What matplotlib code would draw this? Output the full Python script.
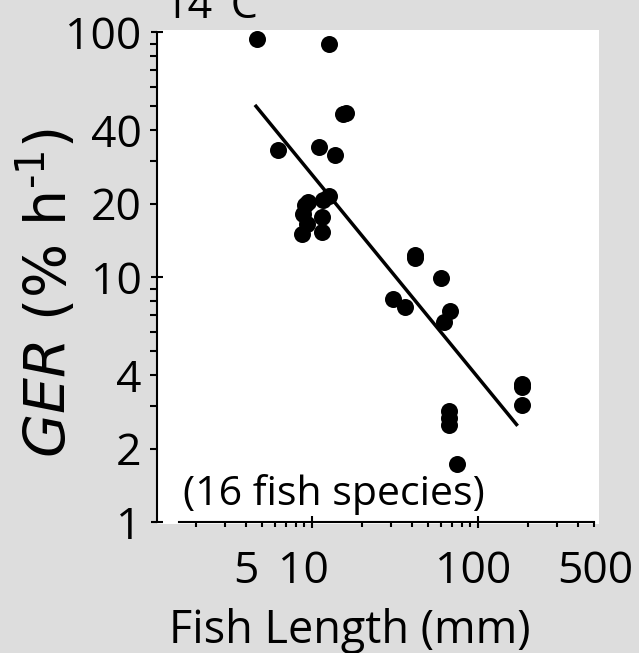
import matplotlib
matplotlib.use("Agg")
import matplotlib.pyplot as plt
from matplotlib.ticker import FixedLocator, FuncFormatter
from matplotlib.transforms import ScaledTranslation

# Fish length (mm) and gastric evacuation rate (% h^-1), 14 degC
length_mm = [4.70, 12.66, 15.4, 16.05, 6.24, 11.1, 13.9, 11.7, 12.7,
             9.54, 9.11, 8.90, 9.33, 8.70, 11.6, 11.6,
             41.7, 41.7, 60.1, 31.0, 36.5, 68.1, 62.7,
             185, 185, 185, 67.3, 67.3, 67.3, 74.7]
ger = [93.6, 89.7, 46.6, 47.1, 33.0, 34.2, 31.7, 20.8, 21.4,
       20.3, 19.7, 18.2, 16.6, 15.0, 17.7, 15.3,
       12.4, 12.0, 9.98, 8.20, 7.57, 7.28, 6.58,
       3.68, 3.58, 3.01, 2.85, 2.67, 2.50, 1.74]

# Log-log regression line end points
fit_length = [4.55, 174]
fit_ger = [50.6, 2.48]

x_major = [10, 100]
x_minor = [2, 3, 4, 5, 6, 7, 8, 9, 20, 30, 40, 50, 60, 70, 80, 90,
           200, 300, 400, 500]
x_minor_labels = [5, 500]
y_major = [1, 10, 100]
y_minor = [2, 3, 4, 5, 6, 7, 8, 9, 20, 30, 40, 50, 60, 70, 80, 90]
y_minor_labels = [2, 4, 20, 40]

FONT = "Open Sans"
LABEL_FONT = "DejaVu Sans"
plt.rcParams["font.family"] = [FONT, "DejaVu Sans"]
plt.rcParams["mathtext.fontset"] = "custom"
plt.rcParams["mathtext.rm"] = LABEL_FONT
plt.rcParams["mathtext.it"] = LABEL_FONT + ":italic"

W, H = 639, 653
BG = "#dddddd"
fig = plt.figure(figsize=(W / 100, H / 100), dpi=100, facecolor=BG)
ax = fig.add_axes([157 / W, (H - 524) / H, 442 / W, 494 / H])
ax.set_facecolor("white")
ax.set_xscale("log")
ax.set_yscale("log")
ax.set_xlim(1.17, 538)
ax.set_ylim(0.986, 102.3)

ax.scatter(length_mm, ger, s=150, color="black", linewidths=0,
           zorder=3, clip_on=False)
ax.plot(fit_length, fit_ger, color="black", lw=2.5,
        solid_capstyle="butt", zorder=2)

for side in ("top", "right"):
    ax.spines[side].set_visible(False)
ax.spines["left"].set_bounds(1, 100)
ax.spines["left"].set_linewidth(1.5)
ax.spines["bottom"].set_position(("data", 1))
ax.spines["bottom"].set_bounds(1.59, 500)
ax.spines["bottom"].set_linewidth(1.5)

ax.xaxis.set_major_locator(FixedLocator(x_major))
ax.xaxis.set_minor_locator(FixedLocator(x_minor))
ax.yaxis.set_major_locator(FixedLocator(y_major))
ax.yaxis.set_minor_locator(FixedLocator(y_minor))
ax.xaxis.set_major_formatter(FuncFormatter(lambda v, p: f"{v:g}"))
ax.yaxis.set_major_formatter(FuncFormatter(lambda v, p: f"{v:g}"))
ax.xaxis.set_minor_formatter(FuncFormatter(
    lambda v, p: f"{v:g}" if round(v) in x_minor_labels else ""))
ax.yaxis.set_minor_formatter(FuncFormatter(
    lambda v, p: f"{v:g}" if round(v) in y_minor_labels else ""))

ax.tick_params(which="major", direction="inout", length=9, width=1.5,
               labelsize=32, colors="black")
ax.tick_params(which="minor", direction="out", width=1.5,
               labelsize=32, colors="black")
ax.tick_params(axis="y", which="minor", length=5, pad=6)
ax.tick_params(axis="y", which="major", pad=6.5)
ax.tick_params(axis="x", which="minor", length=3.5, pad=16.3)
ax.tick_params(axis="x", which="major", pad=15.3)

# horizontal nudges of the x tick labels (pixels)
x_label_shift = {5: -16, 10: -8, 100: -5, 500: 2}
fig.canvas.draw()
for tick in ax.xaxis.get_major_ticks() + ax.xaxis.get_minor_ticks():
    v = round(tick.get_loc())
    if v in x_label_shift:
        lab = tick.label1
        lab.set_transform(lab.get_transform() + ScaledTranslation(
            x_label_shift[v] / 100, 0, fig.dpi_scale_trans))

fig.text(47 / W, 1 - 293 / H, r"$\mathit{GER}$ (% h$^{\text{-1}}$)",
         rotation=90, ha="center", va="center", fontsize=41,
         family=[LABEL_FONT])
fig.text(350 / W, 1 - 643 / H, "Fish Length (mm)", ha="center",
         va="baseline", fontsize=32.4)
fig.text(163 / W, 1 - 18 / H, "14°C", ha="left", va="baseline",
         fontsize=31)
fig.text(183 / W, 1 - 505 / H, "(16 fish species)", ha="left",
         va="baseline", fontsize=29.5)

fig.savefig("out.png", dpi=100, facecolor=BG)
